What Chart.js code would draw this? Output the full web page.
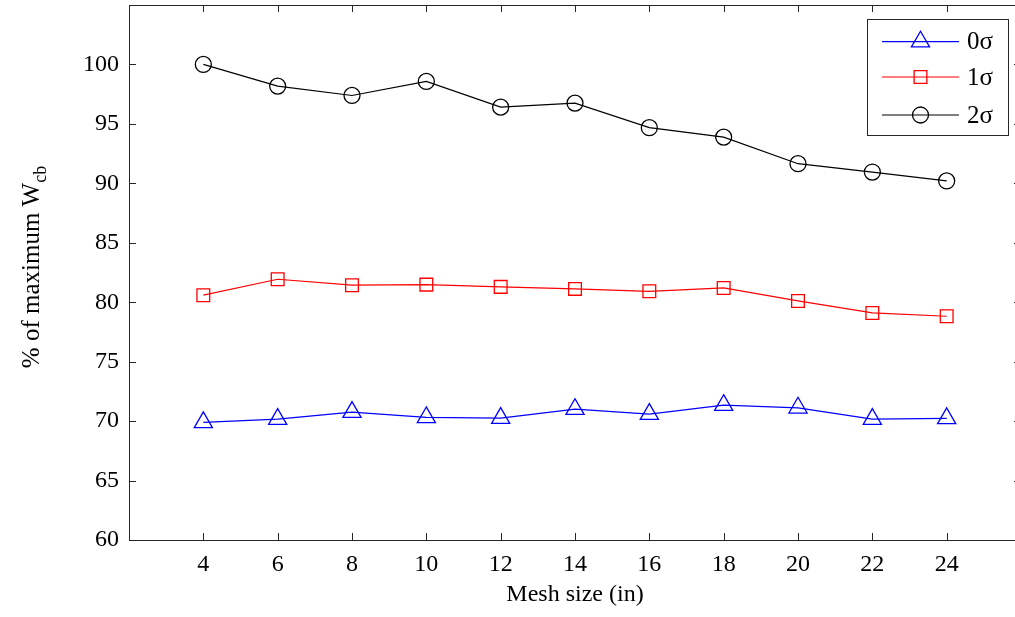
<!DOCTYPE html>
<html><head><meta charset="utf-8">
<script src="https://cdn.jsdelivr.net/npm/chart.js@4.4.0/dist/chart.umd.min.js"></script>
<style>
html,body{margin:0;padding:0;background:#fff;overflow:hidden;}
#wrap{width:1030px;height:617px;position:relative;}
</style></head><body>
<div id="wrap"><canvas id="c" width="1030" height="617"></canvas></div>
<script>
const meshSizes = [4, 6, 8, 10, 12, 14, 16, 18, 20, 22, 24];
const sigma0 = [69.89, 70.17, 70.76, 70.31, 70.25, 71.0, 70.59, 71.34, 71.12, 70.17, 70.23];
const sigma1 = [80.59, 81.93, 81.43, 81.48, 81.29, 81.12, 80.92, 81.2, 80.11, 79.1, 78.82];
const sigma2 = [100, 98.18, 97.39, 98.57, 96.41, 96.75, 94.68, 93.89, 91.65, 90.95, 90.2];
const seriesLabels = ['0σ', '1σ', '2σ'];
const xTickValues = [4, 6, 8, 10, 12, 14, 16, 18, 20, 22, 24];
const yTickValues = [60, 65, 70, 75, 80, 85, 90, 95, 100];
const xTitle = 'Mesh size (in)';
const yTitleMain = '% of maximum W';
const yTitleSub = 'cb';

const FONT = '"Liberation Serif", "Times New Roman", serif';
const AXIS = '#262626';

function pts(vals) { return meshSizes.map((x, i) => ({ x: x, y: vals[i] })); }

const mkDs = (label, data, color, style, r) => ({
  label: label, data: pts(data), borderColor: color, borderWidth: 1.2,
  pointStyle: style, pointRadius: r, pointHoverRadius: r,
  pointBorderColor: color, pointBackgroundColor: 'rgba(0,0,0,0)', pointBorderWidth: 1.3,
  fill: false, tension: 0
});

const framePlugin = {
  id: 'frame',
  afterDraw(chart) {
    const ctx = chart.ctx, a = chart.chartArea;
    const xs = chart.scales.x, ys = chart.scales.y;
    ctx.save();
    ctx.strokeStyle = AXIS; ctx.lineWidth = 1;
    ctx.strokeRect(Math.round(a.left) + 0.5, Math.round(a.top) + 0.5,
      Math.round(a.right - a.left), Math.round(a.bottom - a.top));
    const tl = 7;
    ctx.beginPath();
    xs.ticks.forEach(t => {
      const px = Math.round(xs.getPixelForValue(t.value)) + 0.5;
      ctx.moveTo(px, a.bottom); ctx.lineTo(px, a.bottom - tl);
      ctx.moveTo(px, a.top); ctx.lineTo(px, a.top + tl);
    });
    ys.ticks.forEach(t => {
      const py = Math.round(ys.getPixelForValue(t.value)) + 0.5;
      ctx.moveTo(a.left, py); ctx.lineTo(a.left + tl, py);
      ctx.moveTo(a.right, py); ctx.lineTo(a.right - tl, py);
    });
    ctx.stroke();

    // y title with subscript
    ctx.fillStyle = '#000';
    ctx.font = '25px ' + FONT;
    const wMain = ctx.measureText(yTitleMain).width;
    ctx.font = '18px ' + FONT;
    const wSub = ctx.measureText(yTitleSub).width;
    const total = wMain + wSub;
    const cy = 267, bx = 38.5;
    ctx.translate(bx, cy);
    ctx.rotate(-Math.PI / 2);
    ctx.textBaseline = 'alphabetic';
    ctx.textAlign = 'left';
    ctx.font = '25px ' + FONT;
    ctx.fillText(yTitleMain, -total / 2, 0);
    ctx.font = '18px ' + FONT;
    ctx.fillText(yTitleSub, -total / 2 + wMain, 7);
    ctx.restore();

    // legend
    ctx.save();
    const lx = 867, ly = 19, lw = 141, lh = 116;
    ctx.fillStyle = '#fff';
    ctx.fillRect(lx, ly, lw, lh);
    ctx.strokeStyle = AXIS; ctx.lineWidth = 1;
    ctx.strokeRect(lx + 0.5, ly + 0.5, lw, lh);
    const rows = [41.7, 77, 115];
    chart.data.datasets.forEach((ds, i) => {
      const y = rows[i];
      ctx.strokeStyle = ds.borderColor; ctx.lineWidth = 1.2;
      ctx.beginPath(); ctx.moveTo(882, y); ctx.lineTo(959, y); ctx.stroke();
      ctx.fillStyle = 'rgba(0,0,0,0)';
      ctx.lineWidth = 1.3;
      Chart.helpers.drawPoint(ctx, { pointStyle: ds.pointStyle, radius: ds.pointRadius, rotation: 0, borderWidth: 1.3 }, 920.5, y);
      ctx.fillStyle = '#000';
      ctx.font = '25px ' + FONT;
      ctx.textBaseline = 'middle';
      ctx.textAlign = 'left';
      ctx.fillText(ds.label, 967, y + 1);
    });
    ctx.restore();
  }
};

new Chart(document.getElementById('c'), {
  type: 'line',
  data: {
    datasets: [
      mkDs(seriesLabels[0], sigma0, '#0000FF', 'triangle', 10.5),
      mkDs(seriesLabels[1], sigma1, '#FF0000', 'rect', 9),
      mkDs(seriesLabels[2], sigma2, '#000000', 'circle', 8)
    ]
  },
  options: {
    responsive: false,
    devicePixelRatio: 1,
    animation: false,
    layout: { autoPadding: false, padding: { top: 5, right: 9, left: 0, bottom: 0 } },
    plugins: { legend: { display: false }, tooltip: { enabled: false } },
    scales: {
      x: {
        type: 'linear', min: 2, max: 26,
        afterBuildTicks(s) { s.ticks = xTickValues.map(v => ({ value: v })); },
        afterFit(s) { s.height = 77; s.paddingLeft = 0; s.paddingRight = 0; },
        grid: { display: false, drawTicks: false },
        border: { display: false },
        ticks: { color: '#000', font: { family: FONT, size: 24 }, padding: 10, maxRotation: 0, autoSkip: false },
        title: { display: true, text: xTitle, color: '#000', font: { family: FONT, size: 24 }, padding: { top: 0, bottom: 8 } }
      },
      y: {
        type: 'linear', min: 60, max: 105,
        afterBuildTicks(s) { s.ticks = yTickValues.map(v => ({ value: v })); },
        afterFit(s) { s.width = 129; s.paddingTop = 0; s.paddingBottom = 0; },
        grid: { display: false, drawTicks: false },
        border: { display: false },
        ticks: { color: '#000', font: { family: FONT, size: 24 }, padding: 10, autoSkip: false }
      }
    }
  },
  plugins: [framePlugin]
});
</script>
</body></html>
